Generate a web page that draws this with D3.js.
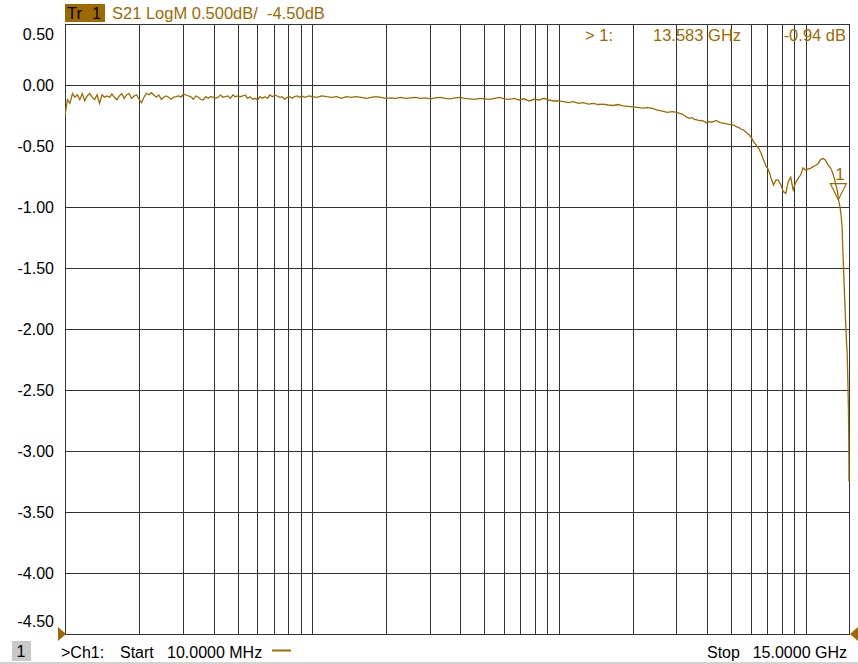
<!DOCTYPE html>
<html><head><meta charset="utf-8">
<script src="https://cdn.jsdelivr.net/npm/d3@7"></script>
<style>
html,body{margin:0;padding:0;background:#fff;overflow:hidden;}
svg{display:block;font-family:"Liberation Sans",Arial,sans-serif;}
text{white-space:pre;}
</style></head><body>
<svg id="c" width="858" height="664"></svg>
<script>
// ---- data (frequency in MHz, S21 in dB) ----
const freqMHz = [
 10,10.23,10.47,10.72,10.96,11.22,11.48,11.75,12.02,12.3,
 12.59,12.88,13.18,13.49,13.8,14.13,14.45,14.79,15.14,15.49,
 15.85,16.22,16.6,16.98,17.38,17.78,18.2,18.62,19.05,19.5,
 19.95,20.42,20.89,21.38,21.88,22.39,22.91,23.44,23.99,24.55,
 25.12,25.7,26.3,26.92,27.54,28.18,28.84,29.51,30.2,30.9,
 31.62,32.36,33.11,33.88,34.67,35.48,36.31,37.15,38.02,38.9,
 39.81,40.74,41.69,42.66,43.65,44.67,45.71,46.77,47.86,48.98,
 50.12,51.29,52.48,53.7,54.95,56.23,57.54,58.88,60.26,61.66,
 63.1,64.57,66.07,67.61,69.18,70.79,72.44,74.13,75.86,77.62,
 79.43,81.28,83.18,85.11,87.1,89.13,91.2,93.33,95.5,97.72,
 100,104.7,109.6,114.8,120.2,125.9,131.8,138,144.5,151.4,
 158.5,166,173.8,182,190.5,199.5,208.9,218.8,229.1,239.9,
 251.2,263,275.4,288.4,302,316.2,331.1,346.7,363.1,380.2,
 398.1,416.9,436.5,457.1,478.6,501.2,524.8,549.5,575.4,602.6,
 631,660.7,691.8,724.4,758.6,794.3,831.8,871,912,955,
 1000,1047,1096,1148,1202,1259,1318,1380,1445,1514,
 1585,1660,1738,1820,1905,1995,2089,2188,2291,2399,
 2512,2630,2754,2884,3020,3090,3162,3236,3311,3388,
 3467,3548,3631,3715,3802,3890,3981,4074,4169,4266,
 4365,4467,4571,4677,4786,4898,5012,5129,5248,5370,
 5495,5623,5754,5888,6026,6166,6310,6457,6607,6761,
 6918,7079,7244,7413,7586,7762,7943,8128,8318,8511,
 8710,8913,9120,9333,9550,9772,10000,10230,10470,10720,
 10960,11220,11480,11750,12020,12300,12590,12880,13180,13490,
 13583,13800,13950,14050,14150,14250,14350,14450,14550,14650,
 14750,14850,14920,14970,15000
];
const s21dB = [
 -0.25,-0.12,-0.15,-0.07,-0.10,-0.08,-0.12,-0.07,-0.13,-0.09,
 -0.07,-0.10,-0.12,-0.08,-0.15,-0.08,-0.10,-0.09,-0.10,-0.074,
 -0.10,-0.12,-0.09,-0.07,-0.11,-0.08,-0.07,-0.11,-0.09,-0.08,
 -0.117,-0.145,-0.10,-0.068,-0.08,-0.063,-0.082,-0.10,-0.082,-0.117,
 -0.10,-0.09,-0.10,-0.117,-0.10,-0.096,-0.09,-0.10,-0.074,-0.082,
 -0.09,-0.096,-0.117,-0.09,-0.10,-0.117,-0.123,-0.096,-0.109,-0.096,
 -0.10,-0.109,-0.10,-0.082,-0.10,-0.096,-0.09,-0.109,-0.082,-0.096,
 -0.090,-0.096,-0.090,-0.082,-0.109,-0.096,-0.117,-0.109,-0.123,-0.096,
 -0.109,-0.096,-0.109,-0.082,-0.096,-0.082,-0.090,-0.101,-0.096,-0.117,
 -0.101,-0.096,-0.109,-0.096,-0.090,-0.101,-0.090,-0.101,-0.096,-0.090,
 -0.096,-0.101,-0.090,-0.096,-0.101,-0.096,-0.109,-0.096,-0.101,-0.096,
 -0.101,-0.109,-0.101,-0.096,-0.101,-0.109,-0.105,-0.109,-0.101,-0.109,
 -0.105,-0.101,-0.109,-0.105,-0.113,-0.105,-0.101,-0.109,-0.113,-0.105,
 -0.101,-0.109,-0.113,-0.117,-0.109,-0.113,-0.117,-0.109,-0.101,-0.113,
 -0.117,-0.109,-0.123,-0.113,-0.131,-0.117,-0.123,-0.109,-0.123,-0.131,
 -0.131,-0.137,-0.145,-0.137,-0.150,-0.145,-0.156,-0.150,-0.160,-0.156,
 -0.164,-0.168,-0.160,-0.172,-0.176,-0.180,-0.184,-0.190,-0.186,-0.192,
 -0.205,-0.215,-0.225,-0.218,-0.225,-0.232,-0.238,-0.250,-0.265,-0.273,
 -0.268,-0.281,-0.286,-0.292,-0.290,-0.300,-0.309,-0.300,-0.305,-0.296,
 -0.292,-0.305,-0.310,-0.314,-0.318,-0.322,-0.325,-0.330,-0.342,-0.350,
 -0.363,-0.370,-0.390,-0.405,-0.430,-0.466,-0.492,-0.520,-0.560,-0.615,
 -0.665,-0.695,-0.760,-0.820,-0.779,-0.780,-0.820,-0.874,-0.888,-0.790,
 -0.757,-0.860,-0.800,-0.765,-0.738,-0.680,-0.697,-0.690,-0.683,-0.669,
 -0.660,-0.647,-0.615,-0.601,-0.615,-0.650,-0.675,-0.720,-0.790,-0.880,
 -0.94,-1.00,-1.08,-1.15,-1.33,-1.50,-1.66,-1.82,-1.97,-2.10,
 -2.20,-2.45,-2.65,-2.92,-3.25
];
const yTicks = [0.5,0,-0.5,-1,-1.5,-2,-2.5,-3,-3.5,-4,-4.5];
const yTickLabels = ["0.50","0.00","-0.50","-1.00","-1.50","-2.00","-2.50","-3.00","-3.50","-4.00","-4.50"];
const gridFreqMHz = [20,30,40,50,60,70,80,90,100,200,300,400,500,600,700,800,900,
                     1000,2000,3000,4000,5000,6000,7000,8000,9000,10000];
const startMHz = 10, stopMHz = 15000;
const markerFreqMHz = 13583, markerDb = -0.94;
const titleText = "S21 LogM 0.500dB/  -4.50dB";
const markerLabel = "> 1:", markerFreqText = "13.583 GHz", markerValText = "-0.94 dB";

// ---- layout ----
const L = 65, R = 849, T = 24, B = 634;
const gold = "#9e6a00", gridCol = "#333333";
const svg = d3.select("#c");

const x = d3.scaleLog().domain([startMHz, stopMHz]).range([L, R]);
const y = d3.scaleLinear().domain([-4.5, 0.5]).range([B, T]);

// grid
const g = svg.append("g").attr("shape-rendering","crispEdges");
g.selectAll("line.v").data(gridFreqMHz).join("line")
  .attr("x1", d => Math.round(x(d))+0.5).attr("x2", d => Math.round(x(d))+0.5)
  .attr("y1", T).attr("y2", B).attr("stroke", gridCol).attr("stroke-width",1);
g.selectAll("line.h").data(yTicks).join("line")
  .attr("y1", d => Math.round(y(d))+0.5).attr("y2", d => Math.round(y(d))+0.5)
  .attr("x1", L).attr("x2", R).attr("stroke", gridCol).attr("stroke-width",1);
g.append("rect").attr("x", L+0.5).attr("y", T+0.5).attr("width", R-L).attr("height", B-T)
  .attr("fill","none").attr("stroke", gridCol).attr("stroke-width",1);

// y labels
svg.selectAll("text.yl").data(yTicks).join("text")
  .attr("x", 54)
  .attr("y", d => Math.max(T+10, Math.min(B-13, y(d))) + 6)
  .attr("text-anchor","end").attr("font-size",16).attr("fill","#000")
  .text((d,i) => yTickLabels[i]);

// trace
svg.append("clipPath").attr("id","clip").append("rect")
  .attr("x", L).attr("y", T).attr("width", R-L+1).attr("height", B-T);
const pts = freqMHz.map((f,i) => [f, s21dB[i]]);
svg.append("path").datum(pts)
  .attr("clip-path","url(#clip)")
  .attr("d", d3.line().x(d => x(d[0])).y(d => y(d[1])))
  .attr("fill","none").attr("stroke", gold).attr("stroke-width",1.3);

// marker
const mx = x(markerFreqMHz), my = y(markerDb);
svg.append("path")
  .attr("d", `M${mx},${my} L${mx-8},${my-16} L${mx+8},${my-16} Z`)
  .attr("fill","none").attr("stroke", gold).attr("stroke-width",1.2);
svg.append("text").attr("x", mx+1.5).attr("y", my-20).attr("text-anchor","middle")
  .attr("font-size",17).attr("fill", gold).text("1");

// header
svg.append("rect").attr("x",65).attr("y",4).attr("width",40).attr("height",18).attr("fill", gold);
svg.append("text").attr("x",67).attr("y",18.5).attr("font-size",16.5).attr("fill","#000").text("Tr");
svg.append("text").attr("x",92).attr("y",18.5).attr("font-size",16.5).attr("fill","#000").text("1");
svg.append("text").attr("x",112).attr("y",18.5).attr("font-size",16.5).attr("fill", gold).text(titleText);

// marker readout
svg.append("text").attr("x",585).attr("y",41).attr("font-size",16.5).attr("fill", gold).text(markerLabel);
svg.append("text").attr("x",653).attr("y",41).attr("font-size",16.5).attr("fill", gold).text(markerFreqText);
svg.append("text").attr("x",846).attr("y",41).attr("text-anchor","end").attr("font-size",16.5).attr("fill", gold).text(markerValText);

// reference triangles
svg.append("path").attr("d",`M58,627 L66,634 L58,641 Z`).attr("fill", gold);
svg.append("path").attr("d",`M858,627 L850,634 L858,641 Z`).attr("fill", gold);

// footer
svg.append("rect").attr("x",12).attr("y",641).attr("width",19).attr("height",20).attr("fill","#c8c8c8");
svg.append("text").attr("x",16.5).attr("y",657).attr("font-size",16).attr("fill","#000").text("1");
svg.append("text").attr("x",61).attr("y",658).attr("font-size",16).attr("fill","#000").text(">Ch1:");
svg.append("text").attr("x",120).attr("y",658).attr("font-size",16).attr("fill","#000").text("Start");
svg.append("text").attr("x",167).attr("y",658).attr("font-size",16).attr("fill","#000").text("10.0000 MHz");
svg.append("line").attr("x1",272).attr("x2",291).attr("y1",650.5).attr("y2",650.5)
  .attr("stroke", gold).attr("stroke-width",2);
svg.append("text").attr("x",707).attr("y",658).attr("font-size",16).attr("fill","#000").text("Stop");
svg.append("text").attr("x",847).attr("y",658).attr("text-anchor","end").attr("font-size",16).attr("fill","#000").text("15.0000 GHz");
svg.append("rect").attr("x",0).attr("y",662).attr("width",858).attr("height",2).attr("fill","#d6d3ce");
</script>
</body></html>
